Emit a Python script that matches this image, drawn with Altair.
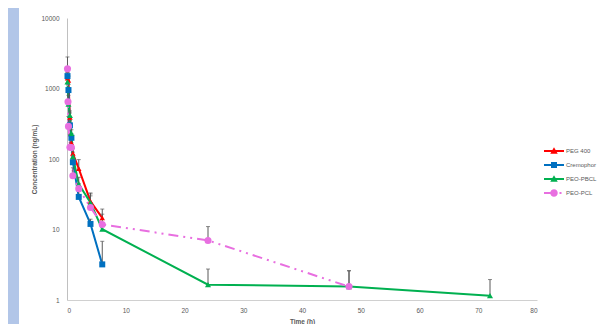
import altair as alt
import pandas as pd

series = ["PEG 400", "Cremophor", "PEO-PBCL", "PEO-PCL"]
colors = ["#ff0000", "#0070c0", "#00b050", "#e86fe0"]

peg_t = [0.083, 0.25, 0.5, 0.75, 1, 2, 4, 6]
peg_c = [1400, 1300, 390, 170, 120, 73, 25, 14.6]
peg_hi = [1700, 1500, 450, 200, 140, 98, 33, 19.5]

cre_t = [0.083, 0.25, 0.5, 0.75, 1, 2, 4, 6]
cre_c = [1500, 950, 300, 200, 90, 29, 12, 3.2]
cre_hi = [1700, 1150, 350, 230, 110, 35, 14, 6.8]

pbcl_t = [0.083, 0.25, 0.5, 0.75, 1, 2, 4, 6, 24, 48, 72]
pbcl_c = [1240, 600, 415, 230, 108, 44, 24, 10.1, 1.65, 1.55, 1.15]
pbcl_hi = [1500, 800, 480, 260, 125, 55, 30, 12.5, 2.75, 2.6, 1.95]

pcl_t = [0.083, 0.17, 0.25, 0.5, 0.75, 1, 2, 4, 6, 24, 48]
pcl_c = [1900, 650, 290, 147, 145, 58, 38, 20.5, 11.8, 7.0, 1.55]
pcl_hi = [2800, 900, 400, 220, 170, 75, 45, 32, 16.5, 11, 2.6]

x_ticks = [0, 10, 20, 30, 40, 50, 60, 70, 80]
y_ticks = [1, 10, 100, 1000, 10000]

rows = []
for s, ts, cs, hs in [
    (series[0], peg_t, peg_c, peg_hi),
    (series[1], cre_t, cre_c, cre_hi),
    (series[2], pbcl_t, pbcl_c, pbcl_hi),
    (series[3], pcl_t, pcl_c, pcl_hi),
]:
    for t, c, h in zip(ts, cs, hs):
        rows.append({"series": s, "time": t, "conc": c, "hi": h})
df = pd.DataFrame(rows)

FONT = "Liberation Sans"
GRAY = "#595959"

X = alt.X(
    "time:Q",
    scale=alt.Scale(domain=[0, 80], nice=False),
    axis=alt.Axis(
        values=x_ticks, title="Time (h)", ticks=False, grid=False,
        domainColor="#d0d0d0", labelFontSize=6.5, labelColor=GRAY, labelFont=FONT,
        labelPadding=7, titleFont=FONT, titleFontSize=6.5, titleFontWeight="bold",
        titleColor=GRAY, titlePadding=5,
    ),
)
YSCALE = alt.Scale(type="log", domain=[1, 10000], nice=False)
Y = alt.Y(
    "conc:Q",
    scale=YSCALE,
    axis=alt.Axis(
        values=y_ticks, format="d", title="Concentration (ng/mL)", ticks=False,
        grid=False, domainColor="#c0c0c0", labelFontSize=6.5, labelColor=GRAY,
        labelFont=FONT, labelPadding=8, titleFont=FONT, titleFontSize=6.5,
        titleFontWeight="bold", titleColor=GRAY, titlePadding=3,
    ),
)

dashes = [None, None, None, [10, 5, 2, 5, 2, 5]]
shapes = ["triangle-up", "square", "triangle-up", "circle"]
sizes = [30, 36, 36, 50]

lines, bars, caps, pts = [], [], [], []
for s, c, d, sh, sz in zip(series, colors, dashes, shapes, sizes):
    base = alt.Chart(df).transform_filter(alt.datum.series == s)
    lm = {"color": c, "strokeWidth": 2}
    if d:
        lm["strokeDash"] = d
    lines.append(base.mark_line(**lm).encode(x=X, y=Y, order="time:Q"))
    bars.append(base.mark_rule(color=GRAY, strokeWidth=1).encode(x=X, y=Y, y2="hi:Q"))
    caps.append(base.mark_tick(color=GRAY, orient="horizontal", size=4, thickness=1)
                .encode(x=X, y=alt.Y("hi:Q", scale=YSCALE)))
    pts.append(base.mark_point(filled=True, shape=sh, size=sz, color=c, opacity=1)
               .encode(x=X, y=Y))

# legend glyphs: line + marker paths
L = "M-2.0,-0.2H2.0V0.2H-2.0Z"
tri = "M0,-0.75L0.75,0.55H-0.75Z"
sq = "M-0.6,-0.6H0.6V0.6H-0.6Z"
circ = "M-0.75,0A0.75,0.75,0,1,1,0.75,0A0.75,0.75,0,1,1,-0.75,0Z"
pcl_glyph = "M-2.0,-0.2H-0.2V0.2H-2.0Z " + circ + " M1.1,-0.2H1.5V0.2H1.1Z"
glyphs = [L + " " + tri, L + " " + sq, L + " " + tri, pcl_glyph]

leg = dict(
    title=None, orient="none", legendX=482, legendY=128, symbolSize=100,
    symbolStrokeWidth=0, labelOffset=7, rowPadding=6, labelFontSize=6,
    labelColor=GRAY, labelFont=FONT, symbolOpacity=1, padding=0,
)
legend_layer = alt.Chart(df).mark_point(filled=True, opacity=0).encode(
    x=X, y=Y,
    color=alt.Color("series:N", scale=alt.Scale(domain=series, range=colors), legend=alt.Legend(**leg)),
    shape=alt.Shape("series:N", scale=alt.Scale(domain=series, range=glyphs), legend=alt.Legend(**leg)),
)

strip = alt.Chart(pd.DataFrame({"a": [0]})).mark_rect(color="#b2c6e8").encode(
    x=alt.value(-59), x2=alt.value(-48), y=alt.value(-10), y2=alt.value(306)
)

chart = alt.layer(strip, *lines, *bars, *caps, *pts, legend_layer).properties(
    width=470, height=282,
    autosize=alt.AutoSizeParams(type="none"),
    padding={"left": 59, "top": 10, "right": 60, "bottom": 24},
    background="white",
).configure_view(stroke=None)

chart.save("out.html", embed_options={"renderer": "svg", "actions": False})
